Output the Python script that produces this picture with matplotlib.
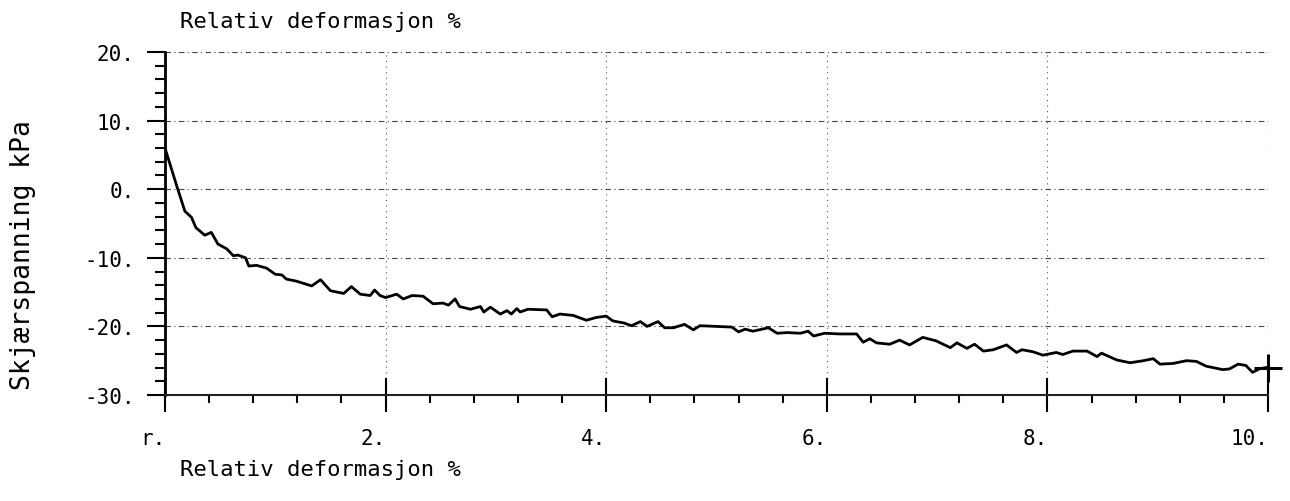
import matplotlib
matplotlib.use("Agg")
import matplotlib.pyplot as plt
from matplotlib.ticker import FixedLocator, MultipleLocator

# ---- data ----
strain = [0.0, 0.106, 0.18, 0.24, 0.28, 0.36, 0.42, 0.48, 0.56, 0.62, 0.66, 0.73, 0.76,
          0.83, 0.92, 1.0, 1.06, 1.10, 1.19, 1.33, 1.41, 1.50, 1.62, 1.69, 1.77, 1.86,
          1.90, 1.95, 2.0, 2.10, 2.16, 2.24, 2.34, 2.43, 2.52, 2.57, 2.63, 2.67, 2.77,
          2.86, 2.89, 2.95, 3.04, 3.10, 3.14, 3.19, 3.22, 3.29, 3.46, 3.51, 3.58, 3.70,
          3.82, 3.91, 4.00, 4.06, 4.16, 4.23, 4.31, 4.37, 4.47, 4.53, 4.61, 4.71, 4.79,
          4.85, 5.0, 5.14, 5.20, 5.26, 5.33, 5.47, 5.55, 5.64, 5.76, 5.83, 5.88, 5.98,
          6.12, 6.27, 6.33, 6.39, 6.45, 6.57, 6.66, 6.75, 6.87, 6.99, 7.12, 7.18, 7.27,
          7.34, 7.42, 7.51, 7.63, 7.72, 7.77, 7.87, 7.96, 8.08, 8.14, 8.23, 8.36, 8.45,
          8.49, 8.63, 8.75, 8.87, 8.96, 9.02, 9.14, 9.26, 9.35, 9.44, 9.59, 9.65, 9.73,
          9.80, 9.86, 9.92, 9.98, 10.0]
stress = [6.0, 0.5, -3.2, -4.1, -5.6, -6.7, -6.3, -8.0, -8.7, -9.7, -9.6, -10.0, -11.2,
          -11.1, -11.5, -12.4, -12.5, -13.1, -13.4, -14.1, -13.2, -14.8, -15.2, -14.2, -15.3, -15.5,
          -14.7, -15.5, -15.8, -15.3, -16.0, -15.5, -15.6, -16.7, -16.6, -16.9, -16.0, -17.1, -17.5,
          -17.1, -17.9, -17.2, -18.2, -17.7, -18.2, -17.4, -17.9, -17.5, -17.6, -18.6, -18.2, -18.4,
          -19.1, -18.7, -18.5, -19.2, -19.5, -19.9, -19.3, -20.0, -19.3, -20.2, -20.2, -19.7, -20.5,
          -19.9, -20.0, -20.1, -20.8, -20.4, -20.7, -20.2, -21.0, -20.9, -21.0, -20.7, -21.4, -21.0,
          -21.1, -21.1, -22.3, -21.8, -22.4, -22.6, -22.0, -22.7, -21.6, -22.1, -23.1, -22.4, -23.2,
          -22.6, -23.6, -23.4, -22.7, -23.8, -23.4, -23.7, -24.2, -23.8, -24.1, -23.6, -23.6, -24.4,
          -23.9, -24.9, -25.3, -25.0, -24.7, -25.5, -25.4, -25.0, -25.1, -25.8, -26.3, -26.2, -25.5,
          -25.7, -26.7, -26.2, -26.0, -26.0]
end_x = [10.0]
end_y = [-26.0]

x_ticks = [0, 2, 4, 6, 8, 10]
x_ticklabels = ["r.", "2.", "4.", "6.", "8.", "10."]
y_ticks = [-30, -20, -10, 0, 10, 20]
y_ticklabels = ["-30.", "-20.", "-10.", "0.", "10.", "20."]

title_text = "Relativ deformasjon %"
xlabel_text = "Relativ deformasjon %"
ylabel_text = "Skjærspanning kPa"

plt.rcParams['font.family'] = ['DejaVu Sans Mono', 'DejaVu Sans']

fig = plt.figure(figsize=(12.9, 5.02), dpi=100)
ax = fig.add_axes([165/1290, 106/502, (1268-165)/1290, (396-53)/502])

ax.set_xlim(0, 10)
ax.set_ylim(-30, 20)

# grid (dotted plotter style)
for gx in x_ticks[1:]:
    ax.axvline(gx, color="#555555", lw=0.8, ls=(0, (1, 4)), zorder=1)
for gy in y_ticks[1:]:
    ax.axhline(gy, color="#444444", lw=0.8, ls=(0, (5, 3, 1, 3)), zorder=1)

ax.plot(strain, stress, color="black", lw=2.0, zorder=3)
ax.plot(end_x, end_y, marker="+", color="black", markersize=20, mew=2.2, ls="none",
        zorder=4, clip_on=False)

for side in ["top", "right"]:
    ax.spines[side].set_visible(False)
ax.spines["left"].set_linewidth(2.0)
ax.spines["bottom"].set_linewidth(1.5)
ax.spines["bottom"].set_color("#222222")

ax.xaxis.set_major_locator(FixedLocator(x_ticks))
ax.set_xticklabels(x_ticklabels, ha="right")
ax.xaxis.set_minor_locator(MultipleLocator(0.4))
ax.yaxis.set_major_locator(FixedLocator(y_ticks))
ax.set_yticklabels(y_ticklabels)
ax.yaxis.set_minor_locator(MultipleLocator(2))

ax.tick_params(axis="x", which="major", direction="inout", length=24, width=1.5, pad=12, labelsize=15)
ax.tick_params(axis="x", which="minor", direction="out", length=6, width=1.5)
ax.tick_params(axis="y", which="major", direction="out", length=13, width=1.5, pad=9, labelsize=15)
ax.tick_params(axis="y", which="minor", direction="out", length=7, width=1.5)

fig.text(180/1290, 1 - 22/502, title_text, fontsize=16, ha="left", va="center")
fig.text(180/1290, 1 - 470/502, xlabel_text, fontsize=16, ha="left", va="center")
fig.text(23/1290, 1 - 255/502, ylabel_text, fontsize=19, rotation=90, ha="center", va="center")

fig.savefig("out.png", dpi=100)
